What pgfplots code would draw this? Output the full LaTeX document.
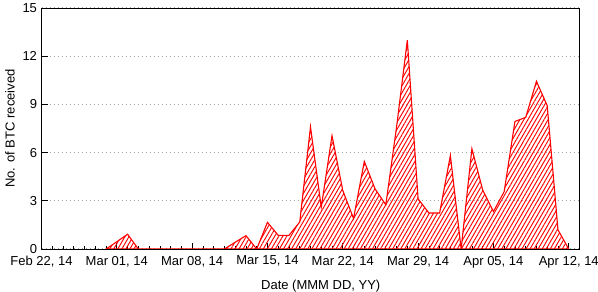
\documentclass[border=0pt]{standalone}
\usepackage{pgfplots}
\pgfplotsset{compat=1.18}
\usepackage{fontspec}
\setmainfont{Liberation Sans}
\usetikzlibrary{patterns.meta}
\begin{document}
\begin{tikzpicture}[font=\fontsize{13bp}{15bp}\selectfont]
\useasboundingbox (0,0) rectangle (598bp,292bp);
\begin{axis}[
  at={(41.5bp,43bp)}, anchor=south west,
  scale only axis, width=538bp, height=241bp,
  xmin=0, xmax=50, ymin=0, ymax=15,
  axis line style={line width=0.9bp, black},
  xtick={0,7,14,21,28,35,42,49},
  xticklabels={{Feb 22, 14},{Mar 01, 14},{Mar 08, 14},{Mar 15, 14},{Mar 22, 14},{Mar 29, 14},{Apr 05, 14},{Apr 12, 14}},
  minor xtick={1,...,49},
  ytick={0,3,6,9,12,15},
  xtick pos=bottom, ytick pos=left,
  tick align=inside,
  major tick length=6bp, minor tick length=3bp,
  every tick/.style={black, line width=0.7bp},
  /pgf/number format/assume math mode=true,
  tick label style={font=\fontsize{13bp}{15bp}\selectfont},
  xticklabel style={yshift=-3.5bp},
  yticklabel style={xshift=-1bp},
  ymajorgrids,
  major grid style={gray!70, line width=1.1bp, dash pattern=on 1.1bp off 2.9bp},
  xlabel={Date (MMM DD, YY)},
  ylabel={No. of BTC received},
  xlabel style={at={(axis description cs:0.519,-0.153)}, anchor=center},
  ylabel style={at={(axis description cs:-0.0585,0.5)}, anchor=center, rotate=0},
  label style={font=\fontsize{13bp}{15bp}\selectfont},
]
\addplot[draw=red, line width=1.1bp, pattern={Lines[angle=60,distance=3.5bp,line width=0.95bp]}, pattern color=red] coordinates {
(6,0) (7,0.45) (8,0.92) (9,0) (10,0) (11,0) (12,0) (13,0) (14,0) (15,0) (16,0) (17,0)
(18,0.42) (19,0.83) (20,0) (21,1.66) (22,0.85) (23,0.85) (24,1.68) (25,7.6) (26,2.6)
(27,7.05) (28,3.64) (29,1.9) (30,5.45) (31,3.74) (32,2.75) (33,7.6) (34,13.0) (35,3.12)
(36,2.24) (37,2.24) (38,5.82) (39,0) (40,6.24) (41,3.68) (42,2.33) (43,3.57) (44,7.94)
(45,8.19) (46,10.44) (47,8.92) (48,1.19) (49,0)
} \closedcycle;
\end{axis}
\end{tikzpicture}
\end{document}
